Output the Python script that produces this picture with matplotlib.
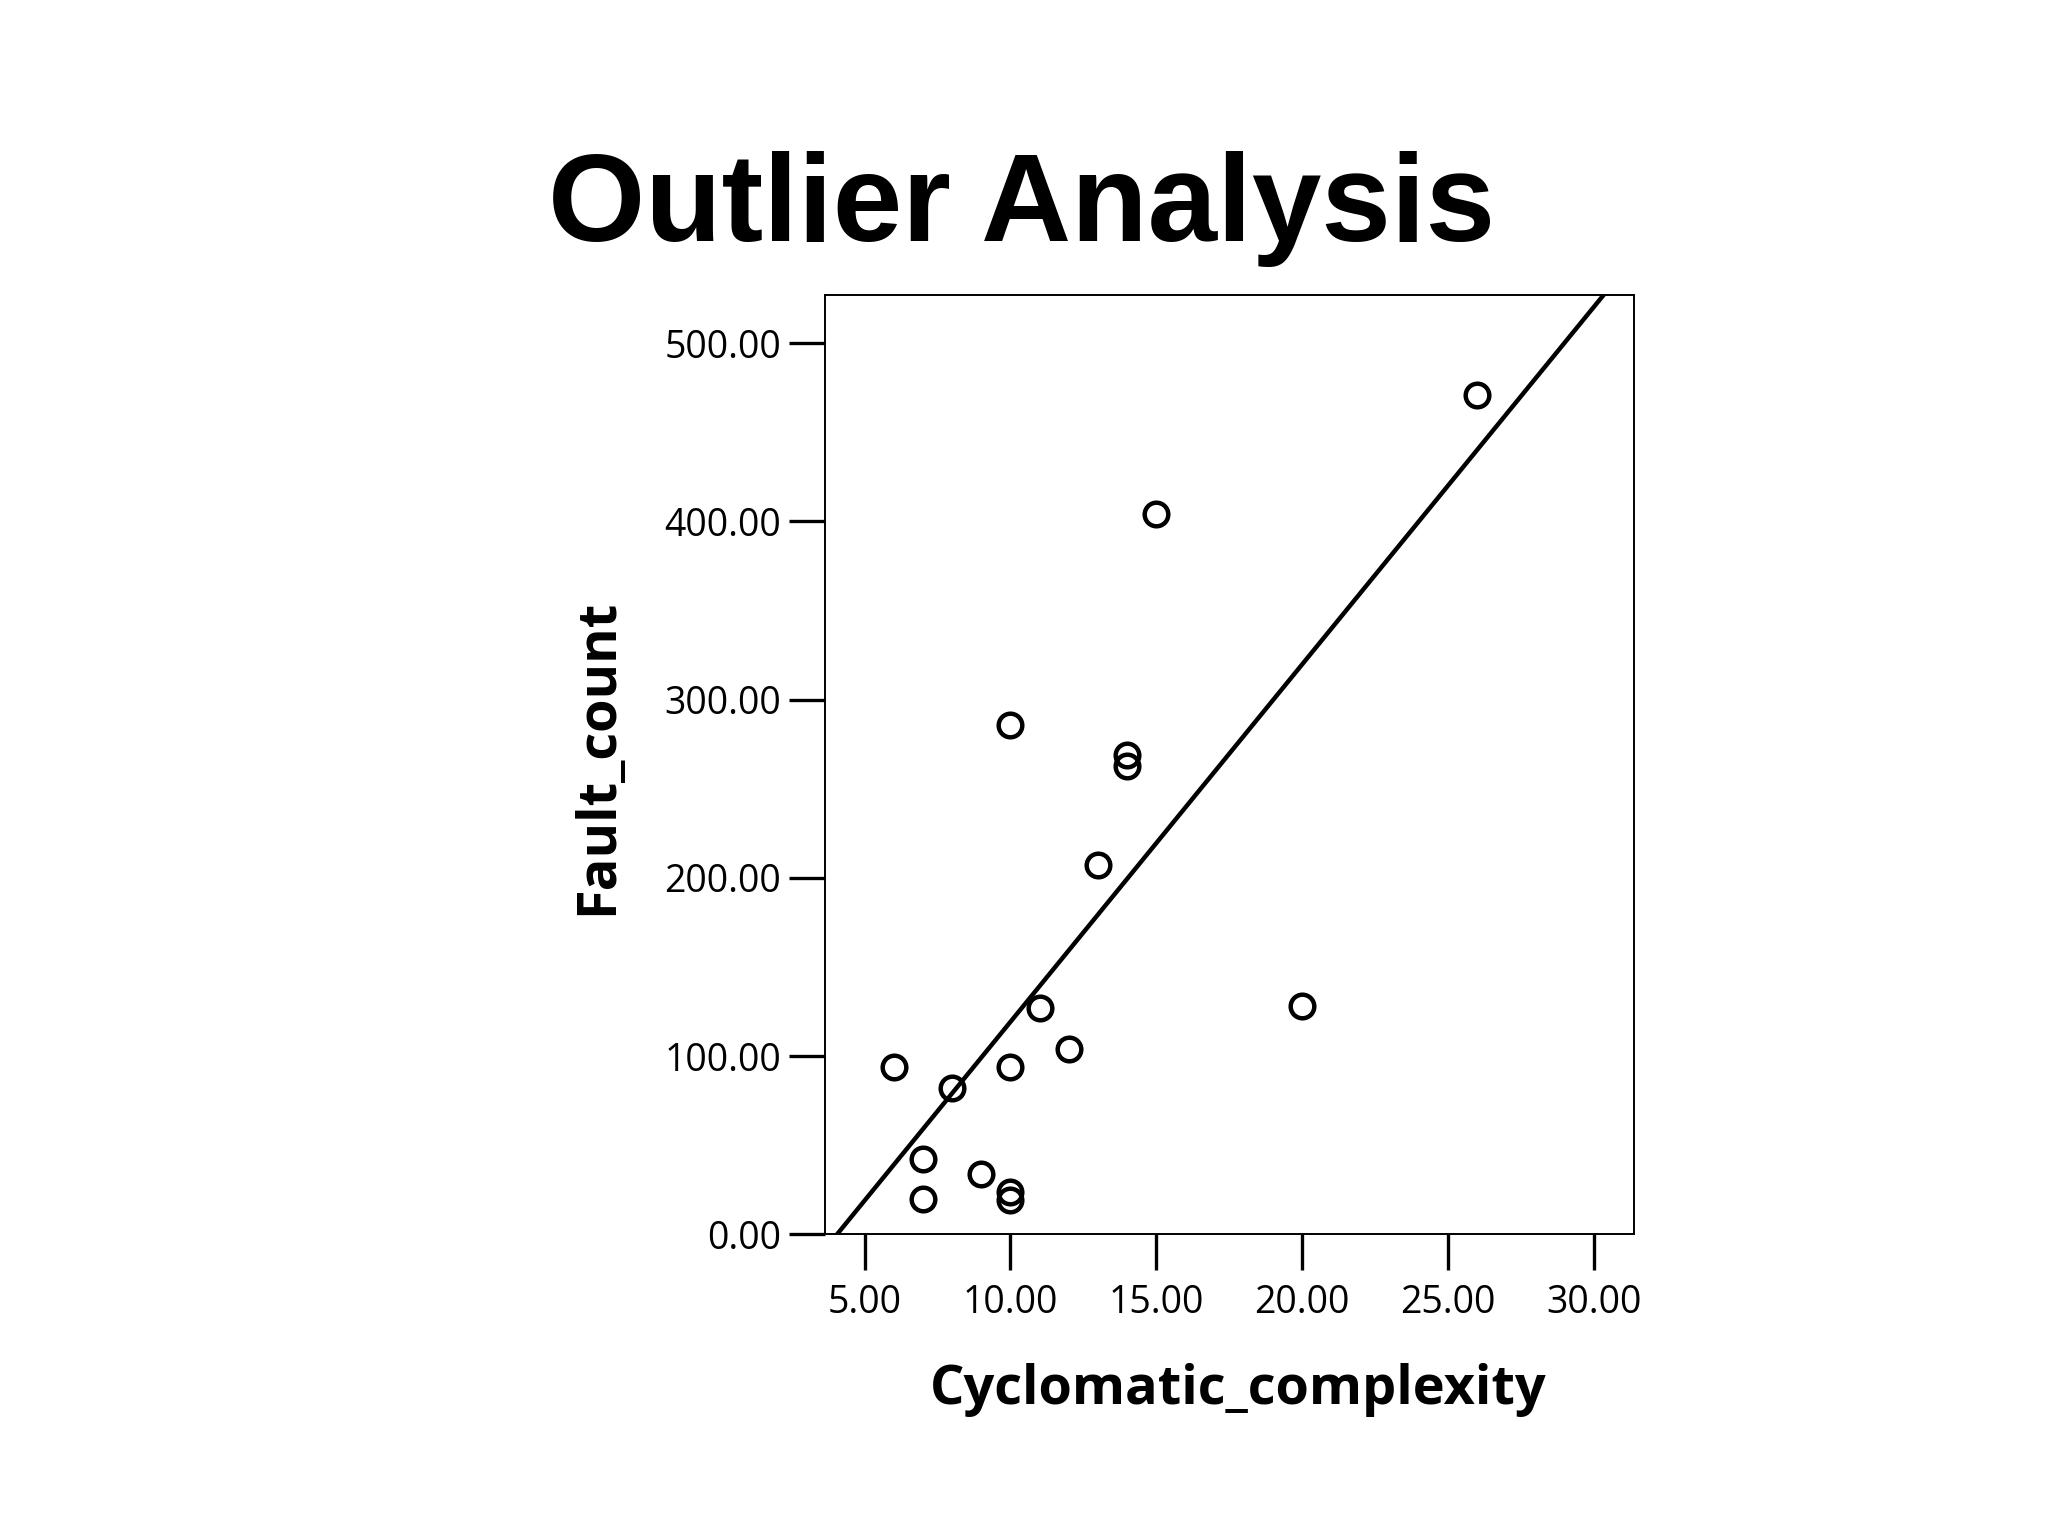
import numpy as np
import matplotlib
matplotlib.use("Agg")
import matplotlib.pyplot as plt

# values
cyclomatic = [6, 7, 7, 8, 9, 10, 10, 10, 10, 11, 12, 13, 14, 14, 15, 20, 26]
faults = [94, 42, 20, 82, 34, 286, 94, 24, 19, 127, 104, 207, 269, 263, 404, 128, 471]
xticks = [5, 10, 15, 20, 25, 30]
yticks = [0, 100, 200, 300, 400, 500]

plt.rcParams['font.family'] = ['Open Sans', 'DejaVu Sans']

fig = plt.figure(figsize=(10.24, 7.68), dpi=200)
ax = fig.add_axes([0.403, 0.1964, 0.395, 0.6116])

ax.plot(cyclomatic, faults, 'o', mfc='none', mec='black', ms=8.5, mew=1.6)

# linear fit line
slope, intercept = np.polyfit(cyclomatic, faults, 1)
xs = np.array([3.0, 32.0])
ax.plot(xs, slope * xs + intercept, color='black', lw=1.6)

ax.set_xlim(3.656, 31.39)
ax.set_ylim(0, 527.1)
ax.set_xticks(xticks)
ax.set_yticks(yticks)
ax.set_xticklabels(['%.2f' % v for v in xticks], fontsize=13.5)
ax.set_yticklabels(['%.2f' % v for v in yticks], fontsize=13.5)
ax.tick_params(axis='both', direction='out', length=13, width=1.2, color='black')
ax.tick_params(axis='x', pad=5)
ax.tick_params(axis='y', pad=3)
for s in ax.spines.values():
    s.set_linewidth(0.7)

ax.set_xlabel('Cyclomatic_complexity', fontsize=19.5, fontweight='bold')
ax.set_ylabel('Fault_count', fontsize=19.5, fontweight='bold')
ax.xaxis.set_label_coords(0.51, -0.137)
ax.yaxis.set_label_coords(-0.247, 0.508)

fig.text(0.499, 0.843, 'Outlier Analysis', ha='center', va='baseline',
         fontsize=45, fontweight='bold', family='Liberation Sans')

fig.savefig('out.png', dpi=200)
